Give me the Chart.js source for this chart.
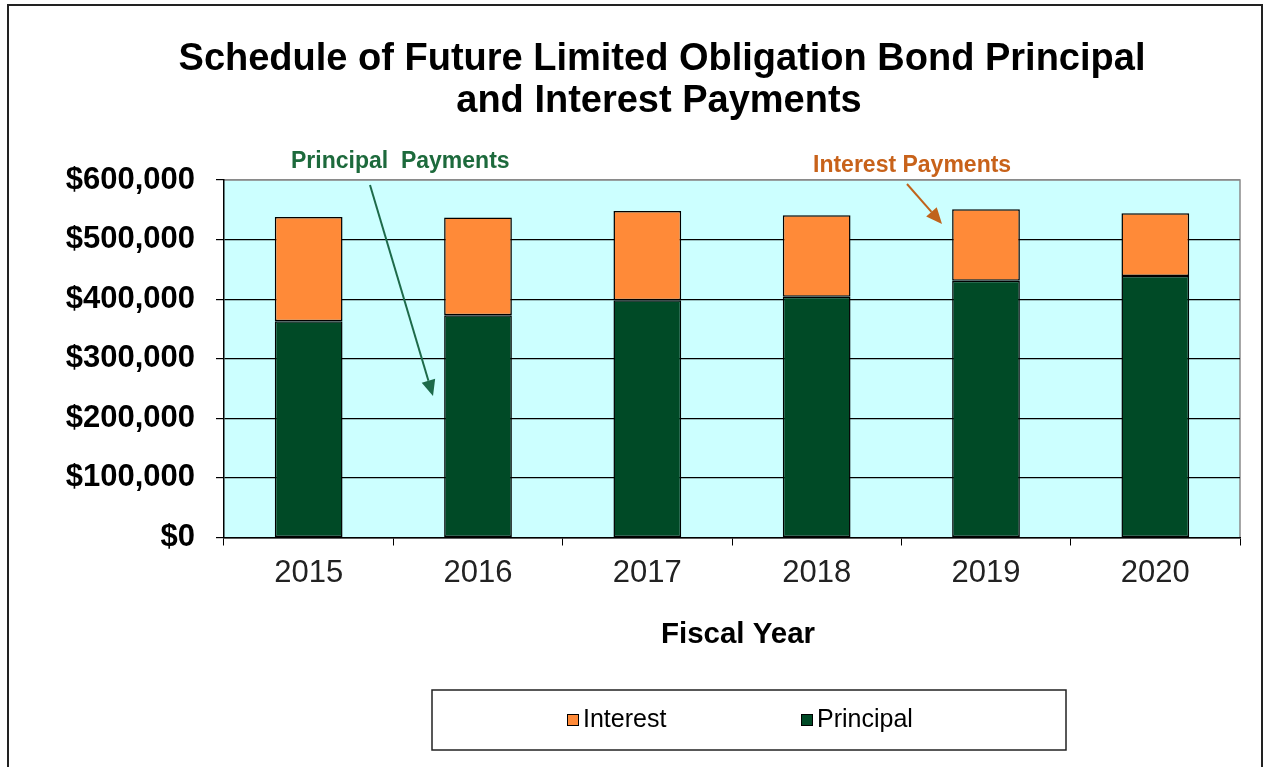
<!DOCTYPE html>
<html>
<head>
<meta charset="utf-8">
<script src="https://cdn.jsdelivr.net/npm/chart.js@4.4.0/dist/chart.umd.min.js"></script>
<style>
  html, body { margin: 0; padding: 0; background: #fff; }
  #wrap { position: relative; width: 1269px; height: 767px; }
  canvas { display: block; }
</style>
</head>
<body>
<div id="wrap"><canvas id="c" width="1269" height="767"></canvas></div>
<script>
const years = ['2015', '2016', '2017', '2018', '2019', '2020'];
const principal = [363000, 373000, 398000, 404000, 431000, 439000];
const interest = [175000, 164000, 150000, 137000, 120000, 105000];
const yTicks = [0, 100000, 200000, 300000, 400000, 500000, 600000];
const titleLines = ['Schedule of Future Limited Obligation Bond Principal', 'and Interest Payments'];
const legendLabels = ['Interest', 'Principal'];

const COL_INT = '#ff8a38';
const COL_PRI = '#004a26';
const PLOT_BG = '#ccffff';

const decor = {
  id: 'decor',
  beforeDraw(chart) {
    const {ctx, chartArea: a} = chart;
    ctx.save();
    ctx.fillStyle = PLOT_BG;
    ctx.fillRect(a.left, a.top, a.right - a.left, a.bottom - a.top);
    ctx.strokeStyle = '#8a8a8a';
    ctx.lineWidth = 1.5;
    ctx.beginPath();
    ctx.moveTo(a.left, a.top);
    ctx.lineTo(a.right, a.top);
    ctx.lineTo(a.right, a.bottom);
    ctx.stroke();
    ctx.restore();
  },
  afterDraw(chart) {
    const {ctx} = chart;
    ctx.save();
    // outer frame
    ctx.strokeStyle = '#222';
    ctx.lineWidth = 2;
    ctx.strokeRect(8, 5, 1254, 800);

    // title
    ctx.fillStyle = '#000';
    ctx.textAlign = 'center';
    ctx.textBaseline = 'alphabetic';
    ctx.font = 'bold 38px "Liberation Sans", Arial, sans-serif';
    ctx.fillText(titleLines[0], 662, 70);
    ctx.fillText(titleLines[1], 659, 112);

    // x axis title
    ctx.font = 'bold 29.5px "Liberation Sans", Arial, sans-serif';
    ctx.fillText('Fiscal Year', 738, 643);

    // annotations
    ctx.font = 'bold 23px "Liberation Sans", Arial, sans-serif';
    ctx.textAlign = 'left';
    ctx.fillStyle = '#1d6a3c';
    ctx.fillText('Principal  Payments', 291, 168);
    ctx.fillStyle = '#c8621a';
    ctx.fillText('Interest Payments', 813, 172);

    function arrow(x1, y1, x2, y2, color, w) {
      const ang = Math.atan2(y2 - y1, x2 - x1);
      const hl = 16, hw = 7;
      const bx = x2 - hl * Math.cos(ang), by = y2 - hl * Math.sin(ang);
      ctx.strokeStyle = color;
      ctx.fillStyle = color;
      ctx.lineWidth = w;
      ctx.beginPath();
      ctx.moveTo(x1, y1);
      ctx.lineTo(bx, by);
      ctx.stroke();
      ctx.beginPath();
      ctx.moveTo(x2, y2);
      ctx.lineTo(bx + hw * Math.sin(ang), by - hw * Math.cos(ang));
      ctx.lineTo(bx - hw * Math.sin(ang), by + hw * Math.cos(ang));
      ctx.closePath();
      ctx.fill();
    }
    arrow(370, 185, 433, 396, '#1d6a4a', 2);
    arrow(907, 184, 942, 224, '#c0631b', 2);

    // legend box
    ctx.strokeStyle = '#222';
    ctx.lineWidth = 1.5;
    ctx.fillStyle = '#fff';
    ctx.fillRect(432, 690, 634, 60);
    ctx.strokeRect(432, 690, 634, 60);
    const items = [
      {label: legendLabels[0], color: COL_INT, x: 567},
      {label: legendLabels[1], color: COL_PRI, x: 801}
    ];
    ctx.font = '25px "Liberation Sans", Arial, sans-serif';
    ctx.textBaseline = 'alphabetic';
    items.forEach(it => {
      ctx.fillStyle = it.color;
      ctx.fillRect(it.x, 714, 11, 11);
      ctx.strokeStyle = '#000';
      ctx.lineWidth = 1;
      ctx.strokeRect(it.x + 0.5, 714.5, 11, 11);
      ctx.fillStyle = '#000';
      ctx.fillText(it.label, it.x + 16, 727);
    });
    ctx.restore();
  }
};

new Chart(document.getElementById('c'), {
  type: 'bar',
  data: {
    labels: years,
    datasets: [
      {label: 'Principal', data: principal, backgroundColor: COL_PRI, borderColor: '#000', borderWidth: 1.5, borderSkipped: false, barPercentage: 0.4, categoryPercentage: 1},
      {label: 'Interest', data: interest, backgroundColor: COL_INT, borderColor: '#000', borderWidth: 1.5, borderSkipped: false, barPercentage: 0.4, categoryPercentage: 1}
    ]
  },
  options: {
    responsive: false,
    animation: false,
    devicePixelRatio: 1,
    layout: {padding: {top: 180, right: 29, bottom: 0, left: 0}},
    plugins: {legend: {display: false}, title: {display: false}, tooltip: {enabled: false}},
    scales: {
      x: {
        stacked: true,
        offset: true,
        grid: {display: true, drawOnChartArea: false, drawTicks: true, tickLength: 8, color: '#000', offset: true},
        border: {display: true, color: '#000', width: 1.5},
        ticks: {color: '#222', padding: 9, font: {family: '"Liberation Sans", Arial, sans-serif', size: 31}},
        afterFit(s) { s.height = 229.5; }
      },
      y: {
        stacked: true,
        min: 0,
        max: 600000,
        afterBuildTicks(s) { s.ticks = yTicks.map(v => ({value: v})); },
        grid: {
          drawTicks: true,
          tickLength: 8,
          color: ctx => (ctx.tick && ctx.tick.value === 600000) ? '#8a8a8a' : '#000',
          tickColor: '#000',
          lineWidth: 1.2
        },
        border: {display: true, color: '#000', width: 1.5},
        ticks: {
          color: '#000',
          padding: 21,
          font: {family: '"Liberation Sans", Arial, sans-serif', size: 31, weight: 'bold'},
          callback: v => '$' + Number(v).toLocaleString('en-US')
        },
        afterFit(s) { s.width = 224; }
      }
    }
  },
  plugins: [decor]
});
</script>
</body>
</html>
